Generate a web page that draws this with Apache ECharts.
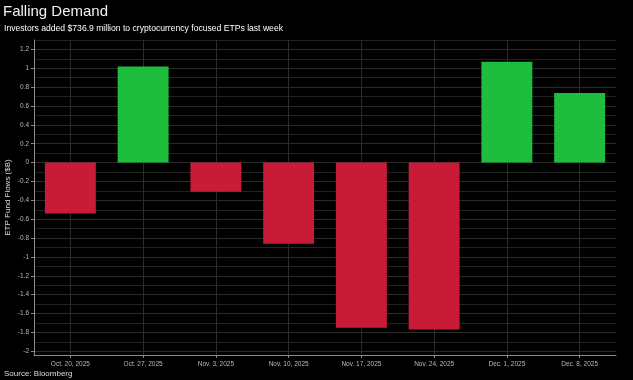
<!DOCTYPE html>
<html><head><meta charset="utf-8">
<script src="https://cdn.jsdelivr.net/npm/echarts@6/dist/echarts.min.js"></script>
<style>html,body{margin:0;padding:0;background:#000;}#c{width:633px;height:380px;}</style>
</head><body><div id="c"></div>
<script>
const categories = ["Oct. 20, 2025","Oct. 27, 2025","Nov. 3, 2025","Nov. 10, 2025","Nov. 17, 2025","Nov. 24, 2025","Dec. 1, 2025","Dec. 8, 2025"];
const flows = [-0.54, 1.02, -0.31, -0.86, -1.75, -1.77, 1.07, 0.737];
const titleText = "Falling Demand";
const subtitleText = "Investors added $736.9 million to cryptocurrency focused ETPs last week";
const sourceText = "Source: Bloomberg";
const yAxisName = "ETP Fund Flows ($B)";

const RED = "#c71b38", GREEN = "#1fbd3e";
const font = "Liberation Sans";
const chart = echarts.init(document.getElementById('c'), null, {renderer:'canvas'});
chart.setOption({
  backgroundColor: '#000',
  animation: false,
  textStyle: {fontFamily: font},
  title: [
    {text: titleText, left: 3, top: 4, padding: 0, textStyle:{color:'#f2f2f2', fontSize:15, fontWeight:'normal', fontFamily: font}},
    {text: subtitleText, left: 4, top: 24, padding: 0, textStyle:{color:'#fff', fontSize:8.6, fontWeight:'normal', fontFamily: font}},
    {text: sourceText, left: 4, top: 370, padding: 0, textStyle:{color:'#ddd', fontSize:8, fontWeight:'normal', fontFamily: font}}
  ],
  grid: {left: 34, right: 17, top: 40, bottom: 25, containLabel: false, outerBoundsMode: 'none'},
  xAxis: {
    type: 'category', data: categories, boundaryGap: true,
    axisLine: {show: true, onZero: false, lineStyle: {color: '#8a8a8a', width: 1}},
    axisTick: {show: true, alignWithLabel: true, length: 3, lineStyle: {color: '#8a8a8a'}},
    axisLabel: {color: '#b8b8b8', fontSize: 6.5, margin: 6, fontFamily: font},
    splitLine: {show: true, alignWithLabel: true, lineStyle: {color: '#2a2a2a', width: 1}}
  },
  yAxis: {
    type: 'value', min: -2.04, max: 1.3, minInterval: 0.2, maxInterval: 0.2, splitNumber: 17,
    name: yAxisName, nameLocation: 'middle', nameGap: 22, nameRotate: 90, nameMoveOverlap: false,
    nameTextStyle: {color: '#ddd', fontSize: 8, fontFamily: font},
    axisLine: {show: true, lineStyle: {color: '#8a8a8a'}},
    axisTick: {show: true, length: 3, lineStyle: {color: '#8a8a8a'}},
    axisLabel: {color: '#b8b8b8', fontSize: 6.5, margin: 5, showMinLabel: false, showMaxLabel: false, fontFamily: font,
      formatter: v => { const r = Math.round(v*10)/10; return r === 0 ? '0' : String(r); }},
    splitLine: {show: true, lineStyle: {color: '#2a2a2a', width: 1}},
    minorTick: {show: false, splitNumber: 2},
    minorSplitLine: {show: true, lineStyle: {color: '#222', width: 1}}
  },
  series: [{
    type: 'bar', data: flows.map(v => ({value: v, itemStyle: {color: v >= 0 ? GREEN : RED}})),
    barWidth: '70%'
  }]
});
</script></body></html>
